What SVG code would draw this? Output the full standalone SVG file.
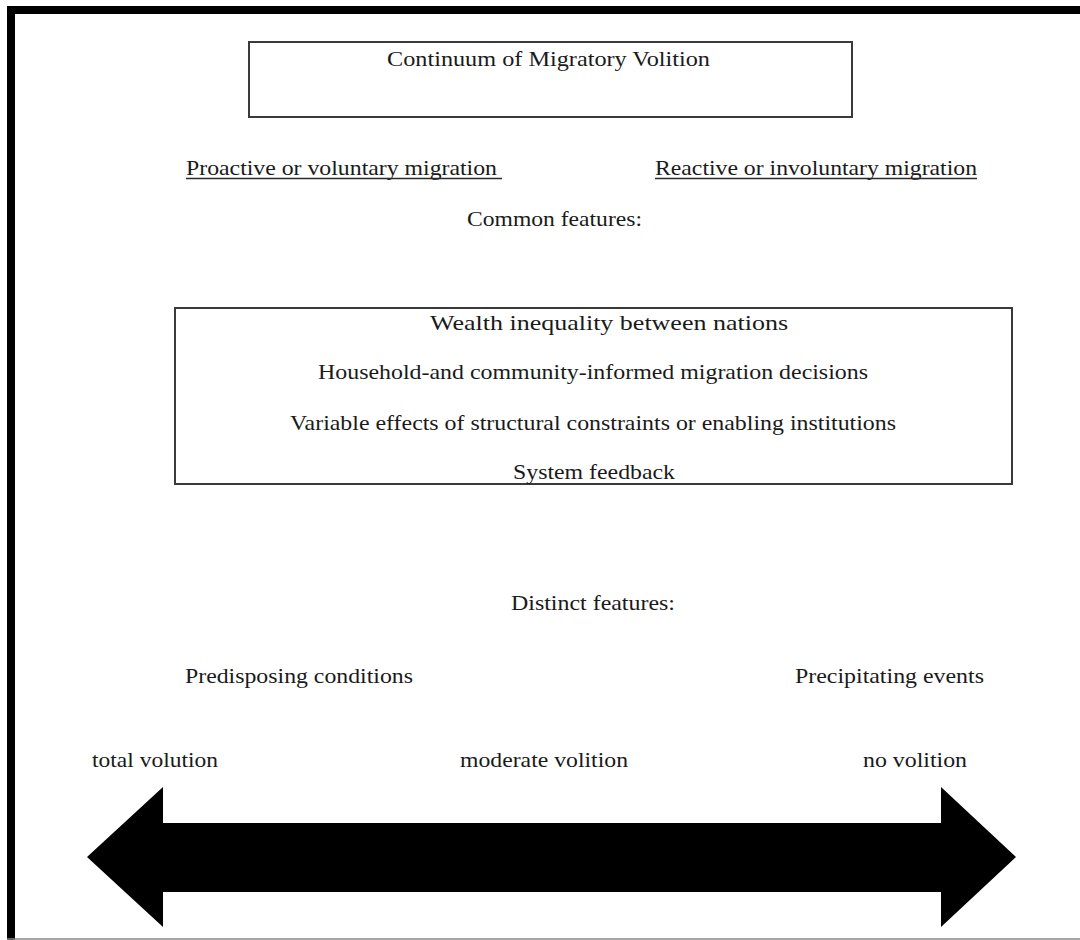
<svg xmlns="http://www.w3.org/2000/svg" width="1080" height="940" viewBox="0 0 1080 940">
<style>
.t{font-family:"Liberation Serif","Times New Roman",serif;font-size:21px;fill:#1a1a1a}
.box{fill:none;stroke:#3a3a3a;stroke-width:2}
.ul{stroke:#2a2a2a;stroke-width:1.5}
</style>
<rect x="0" y="0" width="1080" height="940" fill="#fff"/>
<g id="frame">
<rect x="7" y="6" width="1073" height="8" fill="#000"/>
<rect x="7" y="6" width="8" height="934" fill="#000"/>
<line x1="7" y1="939" x2="1080" y2="939" stroke="#888" stroke-width="1.5"/>
</g>
<g id="title">
<rect class="box" x="249" y="42" width="603" height="75"/>
<text class="t" x="387" y="66" textLength="323" lengthAdjust="spacingAndGlyphs">Continuum of Migratory Volition</text>
</g>
<g id="proactive">
<text class="t" x="186" y="175" textLength="311" lengthAdjust="spacingAndGlyphs">Proactive or voluntary migration</text>
<line class="ul" x1="186" y1="178.5" x2="502" y2="178.5"/>
</g>
<g id="reactive">
<text class="t" x="655" y="175" textLength="322" lengthAdjust="spacingAndGlyphs">Reactive or involuntary migration</text>
<line class="ul" x1="655" y1="178.5" x2="977" y2="178.5"/>
</g>
<g id="common-label">
<text class="t" x="467" y="226" textLength="175" lengthAdjust="spacingAndGlyphs">Common features:</text>
</g>
<g id="common-features">
<rect class="box" x="175" y="308" width="837" height="176"/>
<text class="t" x="430" y="330" textLength="358" lengthAdjust="spacingAndGlyphs">Wealth inequality between nations</text>
<text class="t" x="318" y="379" textLength="550" lengthAdjust="spacingAndGlyphs">Household-and community-informed migration decisions</text>
<text class="t" x="290" y="430" textLength="606" lengthAdjust="spacingAndGlyphs">Variable effects of structural constraints or enabling institutions</text>
<text class="t" x="513" y="479" textLength="162" lengthAdjust="spacingAndGlyphs">System feedback</text>
</g>
<g id="distinct-label">
<text class="t" x="511" y="610" textLength="164" lengthAdjust="spacingAndGlyphs">Distinct features:</text>
</g>
<g id="predisposing">
<text class="t" x="185" y="683" textLength="228" lengthAdjust="spacingAndGlyphs">Predisposing conditions</text>
</g>
<g id="precipitating">
<text class="t" x="795" y="683" textLength="189" lengthAdjust="spacingAndGlyphs">Precipitating events</text>
</g>
<g id="total">
<text class="t" x="92" y="767" textLength="126" lengthAdjust="spacingAndGlyphs">total volution</text>
</g>
<g id="moderate">
<text class="t" x="460" y="767" textLength="168" lengthAdjust="spacingAndGlyphs">moderate volition</text>
</g>
<g id="none">
<text class="t" x="863" y="767" textLength="104" lengthAdjust="spacingAndGlyphs">no volition</text>
</g>
<g id="connectors">
<polygon points="87,857 163,787 163,823 941,823 941,787 1016,857 941,927 941,892 163,892 163,927" fill="#000"/>
</g>
</svg>
